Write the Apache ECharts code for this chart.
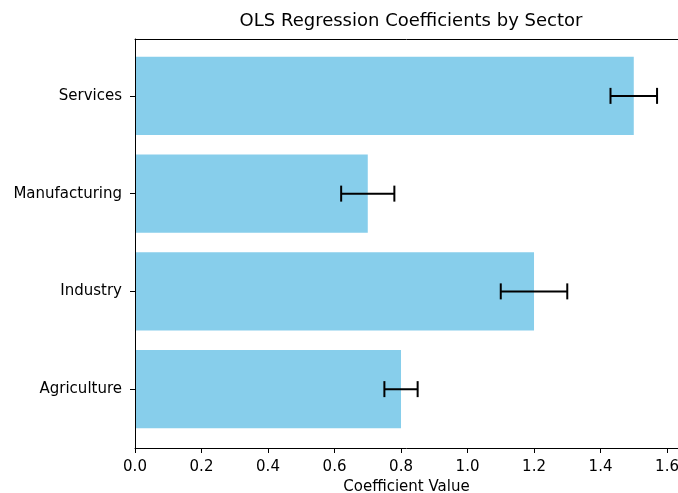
<!DOCTYPE html>
<html>
<head>
    <meta charset="UTF-8">
    <title>OLS Regression Coefficients by Sector</title>
    <script src="https://cdn.jsdelivr.net/npm/echarts@6/dist/echarts.min.js"></script>
    <style>
    html, body {
        margin: 0;
        padding: 0;
        background: #fff;
    }
    #chart {
        width: 678px;
        height: 493px;
    }
    </style>
</head>
<body>
<div id="chart"></div>
<script>
// data
var sectors = ['Agriculture', 'Industry', 'Manufacturing', 'Services'];
var coefficients = [0.8, 1.2, 0.7, 1.5];
var stdErrors = [0.05, 0.1, 0.08, 0.07];
var xTicks = [0.0, 0.2, 0.4, 0.6, 0.8, 1.0, 1.2, 1.4, 1.6];

var FONT = 'DejaVu Sans';
// the right edge of the plot is cut off by the picture, so stop the axis at the picture edge
var xMax = 1.633;

// error bar rows: [low, high, category index]
var errData = [];
for (var i = 0; i < sectors.length; i++) {
    errData.push([coefficients[i] - stdErrors[i], coefficients[i] + stdErrors[i], i]);
}

function renderErr(params, api) {
    var lo = api.coord([api.value(0), api.value(2)]);
    var hi = api.coord([api.value(1), api.value(2)]);
    var cap = 8;
    var style = { stroke: '#000', lineWidth: 2 };
    return {
        type: 'group',
        children: [
            { type: 'line', shape: { x1: lo[0], y1: lo[1], x2: hi[0], y2: hi[1] }, style: style },
            { type: 'line', shape: { x1: lo[0], y1: lo[1] - cap, x2: lo[0], y2: lo[1] + cap }, style: style },
            { type: 'line', shape: { x1: hi[0], y1: hi[1] - cap, x2: hi[0], y2: hi[1] + cap }, style: style }
        ]
    };
}

function tickLabel(v) {
    for (var k = 0; k < xTicks.length; k++) {
        if (Math.abs(v - xTicks[k]) < 1e-6) return xTicks[k].toFixed(1);
    }
    return '';
}

var chart = echarts.init(document.getElementById('chart'));
var option = {
    animation: false,
    title: {
        text: 'OLS Regression Coefficients by Sector',
        left: 406,
        textAlign: 'center',
        top: 7,
        textStyle: { fontFamily: FONT, fontSize: 18, fontWeight: 'normal', color: '#000' }
    },
    grid: [
        // frame + x axis
        { left: 135, top: 39, right: 0, height: 409, outerBoundsMode: 'none', containLabel: false },
        // bars + category labels
        { left: 135, top: 47, right: 0, height: 391, outerBoundsMode: 'none', containLabel: false }
    ],
    xAxis: [{
        gridIndex: 0,
        type: 'value',
        position: 'bottom',
        min: 0,
        max: xMax,
        interval: 0.2,
        name: 'Coefficient Value',
        nameLocation: 'middle',
        nameGap: 30,
        nameTextStyle: { fontFamily: FONT, fontSize: 15, color: '#000' },
        axisLine: { show: true, lineStyle: { color: '#000' } },
        axisTick: { show: true, length: 5, lineStyle: { color: '#000' } },
        axisLabel: {
            margin: 12,
            fontFamily: FONT,
            fontSize: 15,
            color: '#000',
            showMaxLabel: false,
            formatter: tickLabel
        },
        splitLine: { show: false },
        z: 10
    }, {
        // top spine
        gridIndex: 0,
        type: 'value',
        position: 'top',
        min: 0,
        max: xMax,
        axisLine: { show: true, lineStyle: { color: '#000' } },
        axisTick: { show: false },
        axisLabel: { show: false },
        splitLine: { show: false },
        z: 10
    }, {
        gridIndex: 1,
        type: 'value',
        min: 0,
        max: xMax,
        show: false
    }],
    yAxis: [{
        // left spine
        gridIndex: 0,
        type: 'value',
        min: 0,
        max: 1,
        axisLine: { show: true, lineStyle: { color: '#000' } },
        axisTick: { show: false },
        axisLabel: { show: false },
        splitLine: { show: false },
        z: 10
    }, {
        gridIndex: 1,
        type: 'category',
        data: sectors,
        axisLine: { show: false },
        axisTick: { show: true, alignWithLabel: true, length: 5, lineStyle: { color: '#000' } },
        axisLabel: { margin: 13, fontFamily: FONT, fontSize: 15, color: '#000' }
    }],
    series: [{
        type: 'bar',
        xAxisIndex: 2,
        yAxisIndex: 1,
        data: coefficients,
        barWidth: '80%',
        itemStyle: { color: '#87CEEB' }
    }, {
        type: 'custom',
        xAxisIndex: 2,
        yAxisIndex: 1,
        data: errData,
        renderItem: renderErr,
        z: 5
    }]
};
chart.setOption(option);
</script>
</body>
</html>
